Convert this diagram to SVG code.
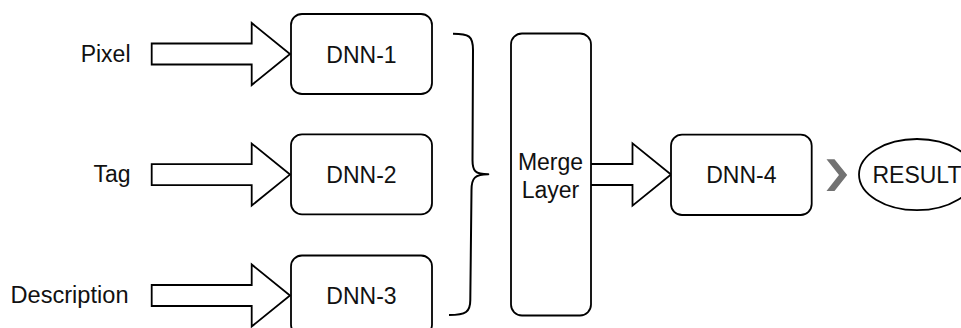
<svg xmlns="http://www.w3.org/2000/svg" xmlns:xlink="http://www.w3.org/1999/xlink" width="961" height="328" viewBox="0 0 961 328">
  <style>
    .box { fill: #ffffff; stroke: #000000; stroke-width: 1.8; }
    .arrow { fill: #ffffff; stroke: #000000; stroke-width: 1.8; stroke-linejoin: miter; }
    .brace { fill: none; stroke: #000000; stroke-width: 2; stroke-linecap: butt; stroke-linejoin: round; }
    text { font-family: "Liberation Sans", Arial, sans-serif; font-size: 23px; fill: #111111; }
    .mid { text-anchor: middle; }
    .end { text-anchor: end; }
  </style>
  <defs>
    <!-- block arrow: shaft from x=0, head base at 100, tip at 138.3 -->
    <path id="blockArrow" d="M0,-10.5 H100 V-31 L138.3,0 L100,31 V10.5 H0 Z"/>
  </defs>

  <!-- input labels -->
  <g id="label-pixel"><text class="end" x="130.5" y="61.7">Pixel</text></g>
  <g id="label-tag"><text class="end" x="130.5" y="182">Tag</text></g>
  <g id="label-description"><text x="10.5" y="302.5" textLength="118" lengthAdjust="spacingAndGlyphs">Description</text></g>

  <!-- connectors -->
  <g id="connectors">
    <use xlink:href="#blockArrow" class="arrow" x="151.7" y="54"/>
    <use xlink:href="#blockArrow" class="arrow" x="151.7" y="174.6"/>
    <use xlink:href="#blockArrow" class="arrow" x="151.7" y="295.5"/>
    <path class="brace" d="M453,33.7 C469,33.7 473,36 473,50 L472.5,160 C472.5,171 475,174.3 488.3,174.3 C475,174.3 471.5,178 471.5,190 L470.3,300 C470.3,312 466,315 449,315"/>
    <path class="arrow" d="M591,164 H632.5 V143.3 L671,174.5 L632.5,205.7 V185 H591"/>
    <polygon id="chevron" fill="#727272" points="826.5,159.3 834.5,159.3 847.2,175 834.5,191 826.5,191 839,175"/>
  </g>

  <g id="dnn-1">
    <rect class="box" x="291" y="14" width="141" height="80" rx="11"/>
    <text class="mid" x="361.5" y="62.8">DNN-1</text>
  </g>
  <g id="dnn-2">
    <rect class="box" x="291" y="134.3" width="141" height="80" rx="11"/>
    <text class="mid" x="361.5" y="183.2">DNN-2</text>
  </g>
  <g id="dnn-3">
    <rect class="box" x="291" y="255.5" width="141" height="80" rx="11"/>
    <text class="mid" x="361.5" y="304.3">DNN-3</text>
  </g>

  <g id="merge-layer">
    <rect class="box" x="511" y="33.5" width="80" height="282" rx="11"/>
    <text class="mid" x="550.5" y="169.5">Merge</text>
    <text class="mid" x="550.5" y="197.7">Layer</text>
  </g>

  <g id="dnn-4">
    <rect class="box" x="671" y="134.7" width="140.7" height="80.3" rx="11"/>
    <text class="mid" x="741.3" y="183.3">DNN-4</text>
  </g>

  <g id="result">
    <ellipse class="box" cx="917" cy="174.6" rx="58" ry="35.6"/>
    <text class="mid" x="917" y="183.3">RESULT</text>
  </g>
</svg>
